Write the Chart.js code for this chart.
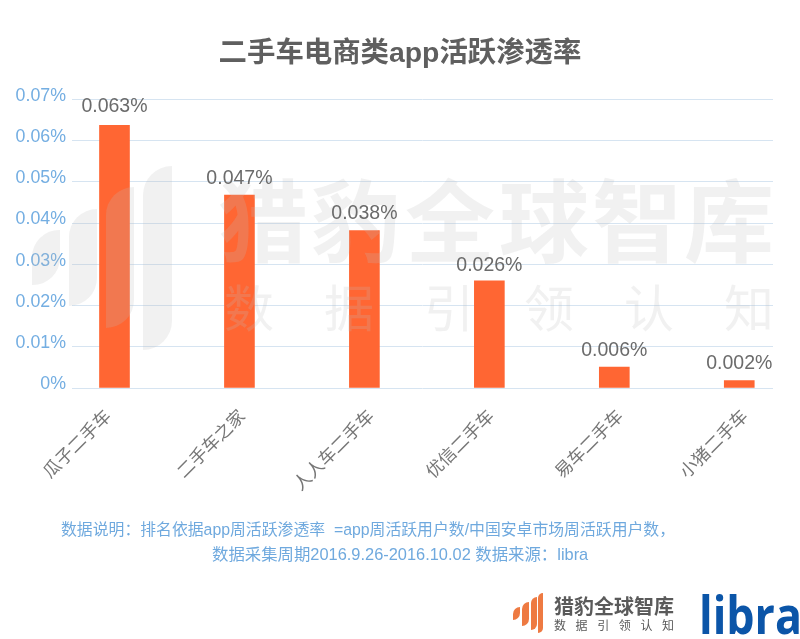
<!DOCTYPE html>
<html><head><meta charset="utf-8">
<script src="https://cdn.jsdelivr.net/npm/chart.js@4/dist/chart.umd.min.js"></script>
<style>
html,body{margin:0;padding:0;background:#fff;overflow:hidden}
#wrap{position:relative;width:800px;height:639px;overflow:hidden}
canvas{position:absolute;left:0;top:0}
.t{position:absolute;white-space:nowrap;font-family:"Noto Sans CJK SC","Liberation Sans",sans-serif}
.note{color:#6fa9de;line-height:22px;font-family:"Liberation Sans","Noto Sans CJK SC",sans-serif}
</style></head><body>
<div id="wrap">
<canvas id="c" width="800" height="639"></canvas>
<div class="t note" style="top:519px;left:61px;font-size:15.85px">数据说明：排名依据app周活跃渗透率 &nbsp;=app周活跃用户数/中国安卓市场周活跃用户数，</div>
<div class="t note" style="top:543px;left:212px;font-size:16.4px">数据采集周期2016.9.26-2016.10.02 数据来源：libra</div>
<div class="t" style="left:554px;top:593px;font-size:20px;font-weight:700;color:#5a5a5a;line-height:26px">猎豹全球智库</div>
<div class="t" style="left:554px;top:616px;font-size:12px;color:#5a5a5a;letter-spacing:9.6px;line-height:18px">数据引领认知</div>
<div class="t" style="left:699px;top:579px;font-size:52px;font-weight:700;color:#0b55a8;line-height:70px;font-family:'Open Sans',sans-serif;transform-origin:left top;transform:scaleX(.86)">libra</div>
</div>
<script>
const categories=["瓜子二手车","二手车之家","人人车二手车","优信二手车","易车二手车","小猪二手车"];
const values=[0.0637,0.0468,0.0382,0.026,0.0051,0.0018];
const valueLabels=["0.063%","0.047%","0.038%","0.026%","0.006%","0.002%"];
const yTicks=[0,0.01,0.02,0.03,0.04,0.05,0.06,0.07];
const yTickLabels=["0%","0.01%","0.02%","0.03%","0.04%","0.05%","0.06%","0.07%"];
const labelNudgePx=[-2,7,11,6,10,10];
const valueLabelGapPx=[9,7,7,5,7,7];

function leaf(ctx,l,t,r,b,rad){
  ctx.beginPath();ctx.moveTo(l,b);ctx.lineTo(l,t+rad);
  ctx.arcTo(l,t,r,t,rad);ctx.lineTo(r,t);ctx.lineTo(r,b-rad);
  ctx.arcTo(r,b,l,b,rad);ctx.lineTo(l,b);ctx.closePath();ctx.fill();
}
const watermark={id:'watermark',afterDatasetsDraw(ch){
  const x=ch.ctx;x.save();
  x.fillStyle='rgba(187,187,187,0.21)';
  leaf(x,32,230,60,285,27);leaf(x,69,209,97,306,28);leaf(x,106,187,134,328,28);leaf(x,143,166,172,350,29);
  x.textAlign='center';x.textBaseline='middle';
  x.font='700 90px "Noto Sans CJK SC"';
  [["猎",263],["豹",356],["全",450],["球",544],["智",637],["库",729]].forEach(p=>x.fillText(p[0],p[1],221));
  x.font='400 50px "Noto Sans CJK SC"';
  ["数","据","引","领","认","知"].forEach((s,i)=>x.fillText(s,249+i*100,308));
  x.restore();
  x.save();x.fillStyle='#ee7a42';
  leaf(x,513,607,520,620,7);leaf(x,522,602,529,626,7);leaf(x,531,597,537,630,6);leaf(x,538,593,543,633,5);
  x.restore();
}};
const valueLabelPlugin={id:'valueLabelPlugin',afterDatasetsDraw(ch){
  const x=ch.ctx,sx=ch.scales.x,sy=ch.scales.y;x.save();
  x.font='19.5px "Liberation Sans"';x.fillStyle='#6b6b6b';x.textAlign='center';x.textBaseline='bottom';
  valueLabels.forEach((s,i)=>x.fillText(s,sx.getPixelForValue(i),sy.getPixelForValue(values[i])-valueLabelGapPx[i]));
  x.restore();
}};
new Chart(document.getElementById('c'),{
  type:'bar',
  data:{datasets:[{data:categories.map((c,i)=>({x:i,y:values[i]})),backgroundColor:'#ff6633',barThickness:30,borderWidth:0}]},
  plugins:[watermark,valueLabelPlugin],
  options:{
    responsive:false,animation:false,devicePixelRatio:1,
    layout:{padding:0},
    plugins:{legend:{display:false},tooltip:{enabled:false},
      title:{display:true,text:'二手车电商类app活跃渗透率',color:'#5f5f5f',
        font:{family:'"Liberation Sans","Noto Sans CJK SC"',size:28.4,weight:'700'},
        padding:{top:37,bottom:28.3}}},
    scales:{
      x:{type:'linear',min:-0.34,max:5.27,offset:false,
        afterBuildTicks(a){a.ticks=categories.map((c,i)=>({value:i+labelNudgePx[i]/125}));},
        afterFit(a){a.height=639-388;},
        grid:{display:false},border:{display:false},
        ticks:{autoSkip:false,maxRotation:45,minRotation:45,padding:9,labelOffset:-5,color:'#777',
          font:{family:'"Noto Sans CJK SC"',size:17.5},
          callback:(v,i)=>categories[i]}},
      y:{min:0,max:0.07,
        afterBuildTicks(a){a.ticks=yTicks.map(v=>({value:v}));},
        afterFit(a){a.width=72;},
        grid:{color:'#d6e4f1',lineWidth:1,drawTicks:false},border:{display:false},
        ticks:{padding:6,labelOffset:-3.5,color:'#74aee2',
          font:{family:'"Liberation Sans"',size:17.8},
          callback:(v)=>yTickLabels[yTicks.findIndex(t=>Math.abs(t-v)<1e-9)]}},
      rightGap:{type:'linear',position:'right',display:true,
        afterFit(a){a.width=27;},
        grid:{display:false},border:{display:false},ticks:{display:false}}
    }
  }
});
</script>
</body></html>
